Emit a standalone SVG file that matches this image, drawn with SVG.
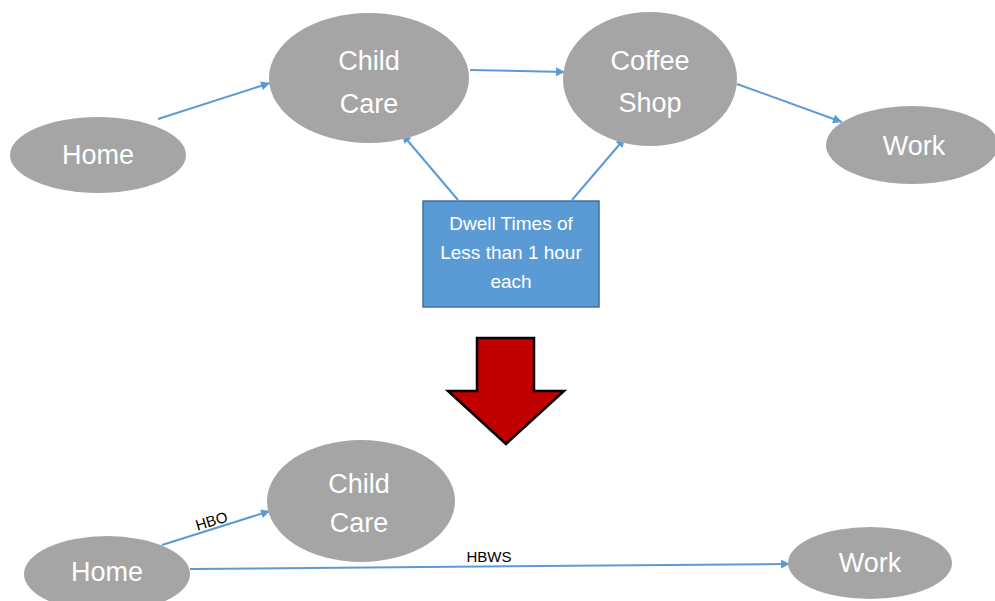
<svg xmlns="http://www.w3.org/2000/svg" width="995" height="601" viewBox="0 0 995 601">
<defs>
<marker id="ah" viewBox="0 0 10 10" refX="10" refY="5" markerWidth="11" markerHeight="9" markerUnits="userSpaceOnUse" orient="auto">
<path d="M0,0 L10,5 L0,10 Z" fill="#5B9BD5"/>
</marker>
<style>
.node{fill:#A5A5A5;}
.lbl{fill:#FFFFFF;font-family:"Liberation Sans",Arial,sans-serif;font-size:27px;text-anchor:middle;}
.edge{stroke:#5B9BD5;stroke-width:2;fill:none;marker-end:url(#ah);}
.elbl{fill:#000000;font-family:"Liberation Sans",Arial,sans-serif;font-size:15px;text-anchor:middle;}
.box{fill:#5B9BD5;stroke:#41719C;stroke-width:1.5;}
.boxt{fill:#FFFFFF;font-family:"Liberation Sans",Arial,sans-serif;font-size:19px;text-anchor:middle;}
</style>
</defs>
<rect width="995" height="601" fill="#FFFFFF"/>
<g id="connectors">
<line class="edge" x1="158" y1="119" x2="270" y2="83"/>
<line class="edge" x1="470" y1="70" x2="565" y2="72"/>
<line class="edge" x1="737" y1="84" x2="842" y2="122"/>
<line class="edge" x1="458" y1="200" x2="402" y2="134"/>
<line class="edge" x1="572" y1="200" x2="625" y2="138"/>
<line class="edge" x1="162" y1="545" x2="270" y2="511"/>
<line class="edge" x1="190" y1="569" x2="790" y2="564"/>
<text class="elbl" transform="translate(213,526) rotate(-17)">HBO</text>
<text class="elbl" x="489" y="562">HBWS</text>
</g>
<g id="home-top">
<ellipse class="node" cx="98" cy="155" rx="88" ry="38"/>
<text class="lbl" x="98" y="164">Home</text>
</g>
<g id="childcare-top">
<ellipse class="node" cx="369" cy="78" rx="100" ry="65"/>
<text class="lbl" x="369" y="70">Child</text>
<text class="lbl" x="369" y="113">Care</text>
</g>
<g id="coffeeshop-top">
<ellipse class="node" cx="650" cy="79" rx="87" ry="67"/>
<text class="lbl" x="650" y="70">Coffee</text>
<text class="lbl" x="650" y="112">Shop</text>
</g>
<g id="work-top">
<ellipse class="node" cx="912" cy="145" rx="86" ry="39"/>
<text class="lbl" x="914" y="155">Work</text>
</g>
<g id="dwell-box">
<rect class="box" x="423" y="201" width="176" height="106"/>
<text class="boxt" x="511" y="230">Dwell Times of</text>
<text class="boxt" x="511" y="259">Less than 1 hour</text>
<text class="boxt" x="511" y="288">each</text>
</g>
<g id="down-arrow">
<path d="M477,338 L534,338 L534,391 L564,391 L506,444 L448,391 L477,391 Z" fill="#C00000" stroke="#000000" stroke-width="2.5" stroke-linejoin="miter"/>
</g>
<g id="childcare-bottom">
<ellipse class="node" cx="361" cy="501" rx="94" ry="61"/>
<text class="lbl" x="359" y="493">Child</text>
<text class="lbl" x="359" y="532">Care</text>
</g>
<g id="home-bottom">
<ellipse class="node" cx="107" cy="574" rx="83" ry="38"/>
<text class="lbl" x="107" y="581">Home</text>
</g>
<g id="work-bottom">
<ellipse class="node" cx="870" cy="563" rx="82" ry="36"/>
<text class="lbl" x="870" y="572">Work</text>
</g>
</svg>
